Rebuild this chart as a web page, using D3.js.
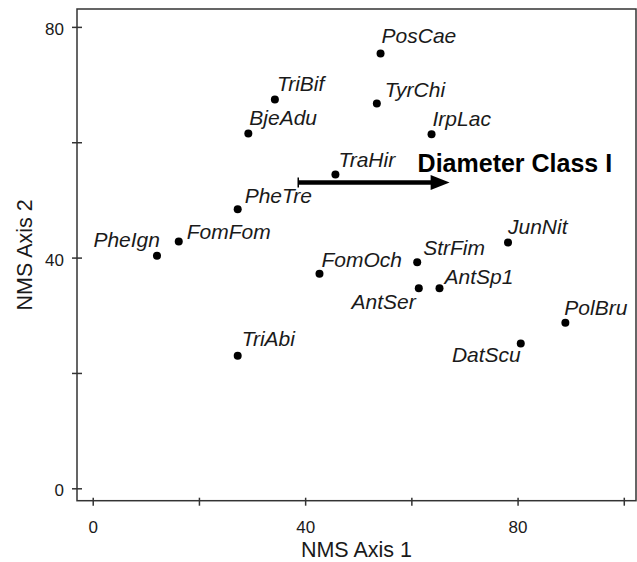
<!DOCTYPE html>
<html>
<head>
<meta charset="utf-8">
<script src="https://cdn.jsdelivr.net/npm/d3@7"></script>
<style>
    body { margin: 0; background: #fff; }
    svg { display: block; }
    text { font-family: "Liberation Sans", Arial, sans-serif; }
</style>
</head>
<body>
<svg id="chart" width="637" height="562"></svg>
<script>
// species scores on the two NMS axes
const species = ['PosCae', 'TriBif', 'TyrChi', 'BjeAdu', 'IrpLac', 'TraHir', 'PheTre', 'FomFom', 'PheIgn',
    'JunNit', 'StrFim', 'FomOch', 'AntSer', 'AntSp1', 'PolBru', 'DatScu', 'TriAbi'];
const axis1 = [54.2, 34.3, 53.5, 29.3, 63.8, 45.7, 27.3, 16.2, 12.1, 78.2, 61.1, 42.7, 61.4, 65.3, 89.0, 80.6, 27.3];
const axis2 = [75.4, 67.4, 66.7, 61.5, 61.4, 54.4, 48.4, 42.8, 40.3, 42.6, 39.2, 37.2, 34.7, 34.7, 28.7, 25.1, 23.0];

// ticks
const xTicks = [0, 20, 40, 60, 80, 100];
const xTickLabels = ['0', '', '40', '', '80', ''];
const yTicks = [0, 20, 40, 60, 80];
const yTickLabels = ['0', '', '40', '', '80'];

// environmental vector
const vectorName = 'Diameter Class I';
const vectorStart = [38.7, 53.0];
const vectorEnd = [67.2, 53.0];

// label placement (pixel offset from point, anchor)
const labelPlace = {
    PosCae: [1, -10, 'start'], TriBif: [2, -9, 'start'], TyrChi: [8, -7, 'start'],
    BjeAdu: [1, -9, 'start'], IrpLac: [1, -8, 'start'], TraHir: [3, -8, 'start'],
    PheTre: [7, -6, 'start'], FomFom: [8, -2, 'start'], PheIgn: [3, -9, 'end'],
    JunNit: [0, -9, 'start'], StrFim: [6, -7, 'start'], FomOch: [2, -7, 'start'],
    AntSer: [-3, 21, 'end'], AntSp1: [5, -4, 'start'], PolBru: [-1, -8, 'start'],
    DatScu: [0, 18, 'end'], TriAbi: [4, -10, 'start']
};

const svg = d3.select('#chart');
const plotL = 77, plotT = 9, plotR = 636, plotB = 500.7;
const ink = '#1a1a1a';

const x = d3.scaleLinear().domain([-2.96, 102.3]).range([plotL, plotR]);
const y = d3.scaleLinear().domain([-2.15, 83.1]).range([plotB, plotT]);

// frame
svg.append('rect')
    .attr('x', plotL).attr('y', plotT)
    .attr('width', plotR - plotL).attr('height', plotB - plotT)
    .attr('fill', 'none').attr('stroke', '#333').attr('stroke-width', 1.5);

// x axis
const gx = svg.append('g')
    .attr('transform', `translate(0,${plotB})`)
    .call(d3.axisBottom(x).tickValues(xTicks).tickFormat((d, i) => xTickLabels[i]).tickSize(5));
gx.select('.domain').remove();
gx.selectAll('.tick line').attr('y1', -3).attr('y2', 5).attr('stroke', '#333').attr('stroke-width', 1.5);
gx.selectAll('.tick text').attr('y', 32).attr('dy', 0)
    .attr('font-size', 17).attr('font-family', '"Liberation Sans", Arial, sans-serif').attr('fill', ink);

// y axis
const gy = svg.append('g')
    .attr('transform', `translate(${plotL},0)`)
    .call(d3.axisLeft(y).tickValues(yTicks).tickFormat((d, i) => yTickLabels[i]).tickSize(5));
gy.select('.domain').remove();
gy.selectAll('.tick line').attr('x1', -5).attr('x2', 5).attr('stroke', '#333').attr('stroke-width', 1.5);
gy.selectAll('.tick text').attr('x', -13).attr('dy', '0.45em')
    .attr('font-size', 17).attr('font-family', '"Liberation Sans", Arial, sans-serif').attr('fill', ink);

// axis titles
svg.append('text')
    .attr('x', (plotL + plotR) / 2).attr('y', 557)
    .attr('text-anchor', 'middle').attr('font-size', 21.5).attr('fill', ink)
    .text('NMS Axis 1');
svg.append('text')
    .attr('transform', `translate(32,${(plotT + plotB) / 2}) rotate(-90)`)
    .attr('text-anchor', 'middle').attr('font-size', 21.5).attr('fill', ink)
    .text('NMS Axis 2');

// vector arrow
const x0 = x(vectorStart[0]), y0 = y(vectorStart[1]);
const x1 = x(vectorEnd[0]), y1 = y(vectorEnd[1]);
svg.append('line')
    .attr('x1', x0).attr('y1', y0).attr('x2', x1 - 16).attr('y2', y1)
    .attr('stroke', '#000').attr('stroke-width', 4.5);
svg.append('path')
    .attr('d', `M${x1},${y1}L${x1 - 19},${y1 - 7.5}L${x1 - 19},${y1 + 7.5}Z`)
    .attr('fill', '#000');
svg.append('line')
    .attr('x1', x0).attr('y1', y0 - 5).attr('x2', x0).attr('y2', y0 + 5)
    .attr('stroke', '#000').attr('stroke-width', 1.5);
svg.append('text')
    .attr('x', x1 - 32).attr('y', y1 - 11)
    .attr('font-size', 25).attr('font-weight', 'bold').attr('fill', '#000')
    .text(vectorName);

// points
const pts = species.map((s, i) => ({ name: s, a1: axis1[i], a2: axis2[i] }));

svg.selectAll('.pt')
    .data(pts)
    .enter().append('circle')
    .attr('class', 'pt')
    .attr('cx', d => x(d.a1))
    .attr('cy', d => y(d.a2))
    .attr('r', 4)
    .attr('fill', '#000');

svg.selectAll('.lbl')
    .data(pts)
    .enter().append('text')
    .attr('class', 'lbl')
    .attr('x', d => x(d.a1) + labelPlace[d.name][0])
    .attr('y', d => y(d.a2) + labelPlace[d.name][1])
    .attr('text-anchor', d => labelPlace[d.name][2])
    .attr('font-size', 21).attr('font-style', 'italic').attr('fill', ink)
    .text(d => d.name);
</script>
</body>
</html>
